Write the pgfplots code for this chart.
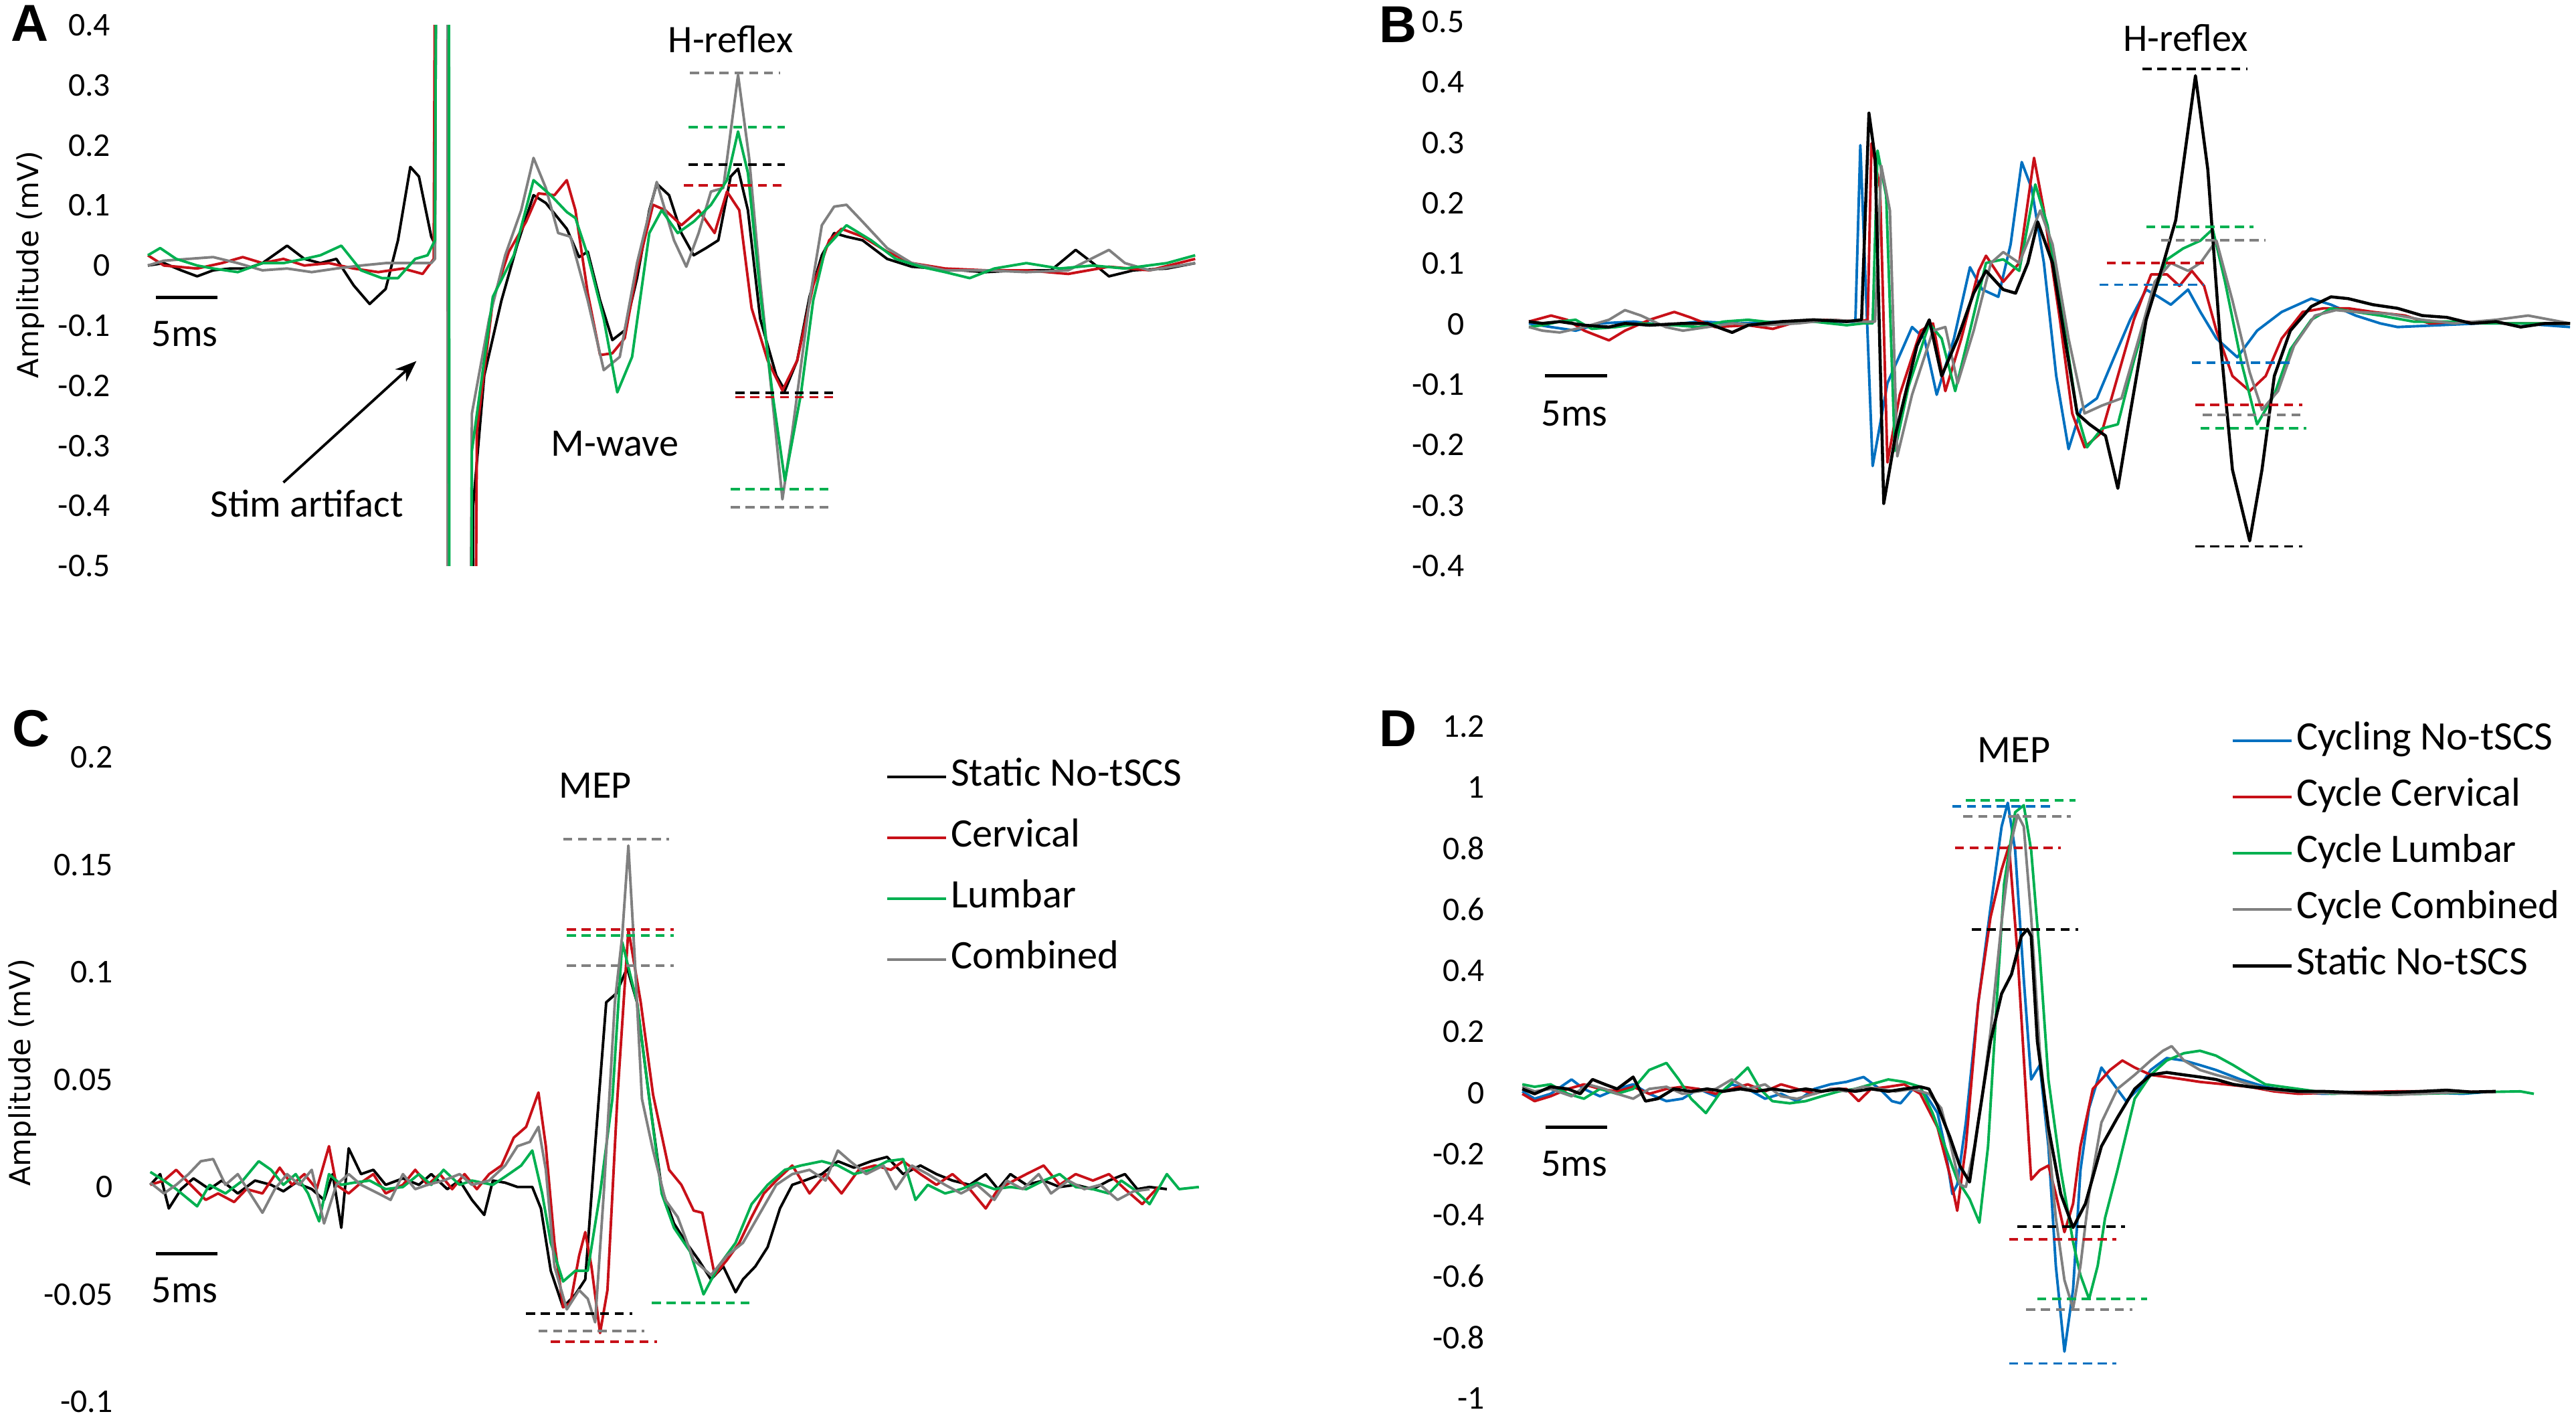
\documentclass[border=0pt]{standalone}
\usepackage{fontspec}
\setmainfont{Carlito}
\newfontfamily\dejavu{DejaVu Sans}
\newfontfamily\libsans{Liberation Sans}
\usepackage{pgfplots}
\pgfplotsset{compat=1.18}
\usetikzlibrary{arrows.meta}
\definecolor{cblue}{RGB}{0,112,192}
\definecolor{cred}{RGB}{200,16,24}
\definecolor{cgreen}{RGB}{0,176,80}
\definecolor{cgray}{RGB}{128,128,128}
\tikzset{
  ann/.style={font=\fontsize{13.5}{14}\selectfont},
  sbar/.style={line width=1.2pt},
  plet/.style={font=\libsans\bfseries\fontsize{18}{20}\selectfont, inner sep=0pt},
}
\pgfplotsset{
  panel/.style={
    scale only axis, clip=false,
    axis line style={draw=none}, tick style={draw=none}, xtick=\empty,
    yticklabel style={anchor=east, inner sep=0pt, xshift=-3mm, font=\fontsize{11.5}{12}\selectfont},
    every axis plot/.append style={line width=0.9pt, line join=round},
  },
  ref/.style={forget plot, line width=0.9pt, dash pattern=on 1.1mm off 0.7mm},
  leg/.style={legend cell align=left,
    legend image code/.code={\draw[##1] (0mm,0mm) -- (7.2mm,0mm); \path (7.6mm,0mm);},
    legend style={draw=none, fill=none, anchor=north west, inner sep=0pt,
      font=\fontsize{14}{16}\selectfont,
      nodes={inner sep=0pt, text height=3.4mm, text depth=1.2mm}}},
}
\begin{document}
\begin{tikzpicture}
\useasboundingbox (0,0) rectangle (313.6mm,-172.6mm);
% ---------------- Panel A ----------------
\begin{axis}[panel, clip=true, at={(16.5mm,-68.9mm)}, anchor=south west,
  width=130.5mm, height=65.84mm, xmin=-1, xmax=86, ymin=-0.5, ymax=0.4,
  ytick={-0.5,-0.4,-0.3,-0.2,-0.1,0,0.1,0.2,0.3,0.4},
  yticklabels={-0.5,-0.4,-0.3,-0.2,-0.1,0,0.1,0.2,0.3,0.4}]
\addplot[black] coordinates {(0,0)(1.3,0.004)(2.7,-0.008)(4,-0.018)(5.3,-0.008)(6.7,-0.005)(8,-0.005)(9.3,0.004)(11.3,0.033)(12.7,0.011)(14,0.004)(15.3,0.011)(16.7,-0.033)(18,-0.064)(19.3,-0.039)(20.3,0.042)(21.3,0.164)(22,0.148)(23,0.048)(23.3,0.036)(24.2,5)(24.5,-5)(25.8,-5)(26.4,-0.4)(27.3,-0.183)(28.7,-0.058)(30,0.036)(31.3,0.117)(32.3,0.104)(34,0.061)(35,0.014)(35.7,0.023)(36.7,-0.058)(37.7,-0.124)(38.7,-0.108)(39.7,-0.021)(40.7,0.092)(41.3,0.136)(42.3,0.117)(43.3,0.054)(44.3,0.017)(45.3,0.029)(46.3,0.042)(47.3,0.148)(47.9,0.161)(48.7,0.092)(49.7,-0.089)(51,-0.183)(51.7,-0.208)(52.7,-0.158)(53.7,-0.052)(54.7,0.017)(55.7,0.054)(56.7,0.048)(58,0.042)(60,0.011)(62,-0.002)(64,-0.005)(66,-0.008)(68,-0.011)(70.7,-0.008)(73.3,-0.008)(75.3,0.026)(76.7,0.004)(78,-0.018)(80,-0.008)(82.7,-0.005)(85,0.004)};
\addplot[cred] coordinates {(0,0.017)(1.3,0)(4,-0.005)(6,0.004)(7.7,0.014)(9.3,0.004)(11,0.011)(12.7,0)(14.7,0.004)(16.7,-0.005)(18.7,-0.011)(20.7,-0.005)(22.3,-0.014)(23.2,0.011)(24.2,5)(24.5,-5)(25.5,-5)(26.7,-0.277)(28,-0.058)(29.3,0.023)(30.7,0.073)(31.7,0.12)(33,0.117)(34,0.142)(34.7,0.092)(35.7,-0.046)(36.7,-0.149)(37.7,-0.146)(38.7,-0.121)(39.7,-0.008)(41,0.101)(42,0.092)(43.3,0.067)(44.7,0.092)(46,0.054)(47,0.123)(48,0.092)(49,-0.071)(50.3,-0.158)(51.5,-0.208)(52.7,-0.158)(54,-0.033)(55.3,0.042)(56.3,0.061)(58,0.048)(60,0.023)(62,0.004)(64.7,-0.005)(68,-0.008)(71.3,-0.008)(74.7,-0.014)(78,-0.002)(81.3,-0.008)(85,0.011)};
\addplot[cgray] coordinates {(0,0)(1.3,0.008)(3.3,0.011)(5.3,0.014)(7.3,0.004)(9.3,-0.008)(11.3,-0.005)(13.3,-0.011)(15.3,-0.005)(17.3,0)(19.3,0.004)(21.3,0.004)(23,0.004)(23.3,0.011)(24.2,5)(24.5,-5)(25,-5)(26.3,-0.246)(27.7,-0.089)(29,0.017)(30.3,0.092)(31.3,0.179)(32.3,0.129)(33.3,0.054)(34.3,0.048)(35.7,-0.058)(37,-0.174)(38.3,-0.152)(39.7,0.004)(41.3,0.139)(42.7,0.042)(43.7,-0.002)(44.7,0.054)(45.7,0.123)(46.7,0.129)(47.9,0.317)(48.8,0.179)(49.7,-0.027)(50.8,-0.246)(51.5,-0.389)(52.3,-0.277)(53.7,-0.058)(54.7,0.067)(55.7,0.098)(56.7,0.101)(58,0.073)(60,0.029)(62,0.004)(64.7,-0.008)(68,-0.008)(71.3,-0.011)(74.7,-0.008)(78,0.026)(79.3,0.004)(81.3,-0.008)(85,0.004)};
\addplot[cgreen] coordinates {(0,0.017)(1,0.029)(2.3,0.011)(4,0)(5.3,-0.005)(7.3,-0.011)(9.3,0.004)(11,0.004)(12.7,0.011)(14,0.017)(15.7,0.033)(17.3,-0.008)(19,-0.021)(20.3,-0.021)(21.7,0.011)(22.7,0.017)(23.3,0.042)(24.3,5)(24.6,-5)(25.6,-5)(26.3,-0.308)(28,-0.052)(29.7,0.017)(31.3,0.142)(32.7,0.117)(34,0.089)(34.7,0.079)(35.7,0.017)(37,-0.089)(38.1,-0.211)(39.3,-0.152)(40.7,0.054)(41.7,0.092)(43,0.054)(44.3,0.073)(45.7,0.101)(47,0.142)(47.9,0.223)(48.7,0.154)(49.7,-0.046)(50.7,-0.214)(51.7,-0.358)(53,-0.214)(54,-0.058)(55,0.029)(56.7,0.067)(58.7,0.042)(60.7,0.011)(62.7,-0.002)(64.7,-0.011)(66.7,-0.021)(68.7,-0.005)(71.3,0.004)(74,-0.005)(76.7,0)(79.3,-0.005)(82.7,0.004)(85,0.017)};
\addplot[ref,cgray] coordinates {(44,0.32)(51.3,0.32)};
\addplot[ref,cgreen] coordinates {(43.9,0.23)(51.7,0.23)};
\addplot[ref,black] coordinates {(43.9,0.168)(51.7,0.168)};
\addplot[ref,cred] coordinates {(43.5,0.133)(51.7,0.133)};
\addplot[ref,black] coordinates {(47.7,-0.212)(55.7,-0.212)};
\addplot[ref,cred] coordinates {(47.7,-0.219)(55.7,-0.219)};
\addplot[ref,cgreen] coordinates {(47.3,-0.372)(55.3,-0.372)};
\addplot[ref,cgray] coordinates {(47.3,-0.402)(55.3,-0.402)};
\draw[sbar] (axis cs:0.67,-0.053) -- (axis cs:5.67,-0.053);
\node[ann] at (axis cs:3,-0.114) {5ms};
\node[ann] at (axis cs:47.3,0.376) {H-reflex};
\node[ann] at (axis cs:37.9,-0.297) {M-wave};
\node[ann] at (axis cs:12.9,-0.396) {Stim artifact};
\draw[-{Stealth[length=2.6mm,width=2mm]}, line width=0.9pt] (axis cs:11,-0.361) -- (axis cs:21.8,-0.159);
\end{axis}
% ---------------- Panel B ----------------
\begin{axis}[panel, at={(184.62mm,-68.86mm)}, anchor=south west,
  width=128.7mm, height=66.2mm, xmin=-1, xmax=84.8, ymin=-0.4, ymax=0.5,
  yticklabel style={xshift=-3.3mm},
  ytick={-0.4,-0.3,-0.2,-0.1,0,0.1,0.2,0.3,0.4,0.5},
  yticklabels={-0.4,-0.3,-0.2,-0.1,0,0.1,0.2,0.3,0.4,0.5}]
\addplot[cblue] coordinates {(0,0.001)(1.8,-0.005)(3.8,-0.011)(5.8,0.001)(8.5,0.004)(11.1,-0.002)(13.8,0.004)(17.1,0.001)(20.5,0.004)(23.8,0.004)(26.5,0.004)(26.9,0.296)(27.9,-0.235)(29.1,-0.098)(31.1,-0.005)(32.1,-0.024)(33.1,-0.117)(34.5,-0.024)(35.8,0.094)(36.8,0.057)(38.1,0.045)(39.1,0.132)(40,0.268)(40.8,0.225)(41.8,0.101)(42.8,-0.086)(43.8,-0.207)(44.8,-0.142)(46.1,-0.123)(47.5,-0.055)(48.8,0.007)(50.1,0.057)(51.1,0.045)(52.1,0.032)(53.5,0.057)(54.5,0.02)(55.8,-0.024)(57.5,-0.055)(59.1,-0.011)(61.1,0.02)(63.5,0.042)(65.1,0.032)(67.1,0.014)(69.1,0.001)(70.5,-0.005)(73.8,-0.002)(77.1,0.001)(80.5,0.001)(84.5,-0.005)};
\addplot[cred] coordinates {(0,0.004)(1.8,0.014)(3.1,0.007)(4.5,-0.011)(6.5,-0.027)(7.8,-0.011)(9.8,0.007)(11.8,0.02)(13.1,0.011)(15.1,-0.005)(17.8,-0.002)(19.8,-0.008)(21.8,0.004)(24.5,0.007)(26.8,0.004)(27.5,0.007)(27.8,0.299)(28.5,0.225)(29.1,-0.229)(30.1,-0.117)(31.8,-0.011)(32.8,0.001)(33.8,-0.111)(35.1,-0.024)(36.5,0.088)(37.1,0.113)(38.5,0.07)(39.8,0.101)(41,0.275)(41.8,0.188)(43.1,0.007)(44.1,-0.148)(45.1,-0.204)(46.5,-0.179)(47.8,-0.086)(49.1,0.007)(50.5,0.082)(51.8,0.082)(52.8,0.063)(53.8,0.088)(54.8,0.063)(55.8,-0.011)(57.1,-0.086)(58.5,-0.111)(59.8,-0.086)(61.1,-0.024)(62.8,0.02)(64.5,0.026)(66.5,0.026)(68.5,0.02)(71.1,0.014)(73.1,0.001)(75.8,0.004)(79.1,0.001)(84.5,0.001)};
\addplot[cgreen] coordinates {(0,-0.005)(1.1,-0.002)(2.5,0.004)(3.8,0.007)(5.1,-0.008)(7.1,-0.005)(9.1,0.001)(11.8,-0.002)(13.8,-0.005)(15.8,0.004)(17.8,0.007)(20.5,0.001)(23.1,0.004)(25.8,-0.002)(27.1,0.001)(27.9,0.001)(28.3,0.287)(29,0.212)(29.7,-0.21)(30.8,-0.104)(32.5,0.001)(33.5,-0.024)(34.6,-0.111)(35.8,-0.011)(37.1,0.101)(38.5,0.107)(39.8,0.088)(41.1,0.231)(42.1,0.163)(43.5,-0.011)(44.5,-0.148)(45.3,-0.204)(46.5,-0.173)(47.8,-0.166)(49.1,-0.061)(50.5,0.039)(51.8,0.107)(53.1,0.125)(54.5,0.138)(55.5,0.157)(56.5,0.07)(57.8,-0.061)(59.1,-0.166)(60.5,-0.117)(61.8,-0.042)(63.5,0.007)(65.1,0.026)(67.1,0.02)(69.1,0.014)(71.8,0.004)(74.5,0.004)(77.8,0.001)(84.5,0.001)};
\addplot[cgray] coordinates {(0,-0.005)(1.1,-0.011)(2.5,-0.014)(4.5,-0.005)(6.5,0.007)(7.8,0.023)(9.1,0.014)(11.1,-0.005)(12.5,-0.011)(14.5,-0.005)(16.5,0.001)(19.1,-0.002)(21.8,0.001)(24.5,0.007)(27.1,0.004)(28.1,0.004)(28.6,0.262)(29.3,0.188)(29.9,-0.219)(31.1,-0.117)(32.8,-0.011)(33.8,-0.005)(34.8,-0.098)(36.1,-0.011)(37.5,0.101)(38.5,0.119)(39.8,0.101)(41.5,0.188)(42.5,0.132)(43.8,-0.024)(45.1,-0.148)(46.5,-0.135)(48.1,-0.123)(49.5,-0.024)(50.8,0.07)(52.1,0.101)(53.5,0.088)(54.5,0.101)(55.8,0.138)(57.1,0.039)(58.5,-0.08)(59.5,-0.142)(60.8,-0.111)(62.1,-0.036)(63.8,0.014)(65.5,0.023)(67.1,0.02)(69.8,0.017)(72.5,0.007)(75.1,0.001)(78.5,0.007)(81.1,0.014)(84.5,0.001)};
\addplot[black, line width=1.05pt] coordinates {(0,0.004)(1.1,0.001)(2.5,0.004)(4.5,-0.002)(6.5,-0.005)(7.8,0.001)(9.8,-0.002)(12.5,0.001)(14.5,0.001)(16.5,-0.014)(17.8,-0.002)(20.5,0.004)(23.1,0.007)(25.8,0.004)(27,0.007)(27.6,0.349)(28.1,0.275)(28.8,-0.297)(29.8,-0.179)(31.5,-0.036)(32.5,0.007)(33.5,-0.086)(34.8,-0.024)(36.1,0.051)(37.1,0.088)(38.5,0.057)(39.5,0.051)(40.5,0.101)(41.3,0.169)(42.5,0.101)(43.5,-0.024)(44.5,-0.148)(45.5,-0.166)(46.8,-0.185)(47.8,-0.272)(48.8,-0.148)(50.1,0.007)(51.5,0.101)(52.5,0.172)(54.1,0.411)(55.1,0.256)(56.1,-0.024)(57.1,-0.241)(58.5,-0.359)(59.5,-0.241)(60.5,-0.086)(61.8,-0.011)(63.5,0.029)(65.1,0.045)(66.5,0.042)(68.5,0.032)(70.5,0.026)(72.5,0.014)(74.5,0.011)(76.5,0.001)(78.5,0.004)(80.5,-0.005)(82.5,0.001)(84.5,0.001)};
\addplot[ref,black] coordinates {(49.8,0.422)(58.3,0.422)};
\addplot[ref,cgreen] coordinates {(50.1,0.161)(58.8,0.161)};
\addplot[ref,cgray] coordinates {(51.3,0.139)(59.8,0.139)};
\addplot[ref,cred] coordinates {(46.9,0.101)(54.8,0.101)};
\addplot[ref,cblue] coordinates {(46.3,0.065)(54.8,0.065)};
\addplot[ref,cblue] coordinates {(53.8,-0.064)(62.1,-0.064)};
\addplot[ref,cred] coordinates {(54.1,-0.134)(62.8,-0.134)};
\addplot[ref,cgray] coordinates {(54.7,-0.15)(63.1,-0.15)};
\addplot[ref,cgreen] coordinates {(54.5,-0.173)(63.1,-0.173)};
\addplot[ref,black] coordinates {(54.1,-0.368)(62.8,-0.368)};
\draw[sbar] (axis cs:1.33,-0.086) -- (axis cs:6.33,-0.086);
\node[ann] at (axis cs:3.7,-0.148) {5ms};
\node[ann] at (axis cs:53.3,0.473) {H-reflex};
\end{axis}
% ---------------- Panel C ----------------
\begin{axis}[panel, leg, at={(16.8mm,-170.62mm)}, anchor=south west,
  width=130.5mm, height=78.42mm, xmin=-1, xmax=86, ymin=-0.1, ymax=0.2,
  ytick={-0.1,-0.05,0,0.05,0.1,0.15,0.2},
  yticklabels={-0.1,-0.05,0,0.05,0.1,0.15,0.2},
  legend style={at={(0.697,1.0)}, row sep=2.82mm}]
\addplot[black] coordinates {(0,0.001)(0.8,0.006)(1.5,-0.01)(2.5,-0.001)(3.5,0.004)(4.8,-0.001)(5.8,0.003)(7.1,-0.003)(8.5,0.003)(9.8,0.001)(10.8,-0.002)(11.8,0.002)(13.1,-0.001)(14.1,-0.006)(14.8,0.006)(15.5,-0.019)(16.1,0.018)(17.1,0.006)(18.1,0.008)(19.1,0.001)(20.5,0.004)(21.8,0.001)(22.8,0.006)(24.1,-0.001)(25.1,0.003)(26.1,-0.006)(27.1,-0.013)(27.8,0.003)(28.8,0.002)(29.8,0)(31,0)(31.7,-0.01)(32.5,-0.039)(33.5,-0.056)(34.5,-0.05)(35.3,-0.043)(36.1,0.019)(37,0.086)(37.8,0.09)(38.7,0.102)(39.5,0.086)(40.5,0.041)(41.5,-0.001)(42.5,-0.017)(43.5,-0.026)(44.5,-0.034)(45.5,-0.043)(46.5,-0.037)(47.5,-0.049)(48.1,-0.043)(49.1,-0.037)(50.1,-0.028)(51.1,-0.01)(52.1,0.001)(53.1,0.003)(54.5,0.006)(55.8,0.012)(57.1,0.009)(58.5,0.012)(59.8,0.014)(61.1,0.006)(62.5,0.01)(63.8,0.006)(65.1,0.003)(66.5,0.001)(67.8,0.006)(68.8,-0.001)(69.8,0.006)(71.1,0.001)(72.5,0.003)(73.8,0)(75.1,0.001)(76.5,-0.001)(77.8,0.003)(79.1,0.006)(80.1,-0.001)(81.1,0)(82.5,-0.001)};
\addlegendentry{Static No-tSCS}
\addplot[cred] coordinates {(0,0.001)(1.1,0.003)(2.1,0.008)(3.1,0.002)(4.5,-0.006)(5.5,-0.003)(6.8,-0.007)(7.8,-0.001)(9.1,-0.003)(10.5,0.009)(11.5,0.001)(12.5,0.006)(13.5,-0.001)(14.5,0.019)(15.1,0.001)(16.1,-0.003)(17.1,0.002)(18.1,0.006)(19.1,-0.003)(20.5,0.001)(21.5,0.008)(22.5,0.001)(23.5,0.006)(24.5,-0.001)(25.5,0.006)(26.5,-0.001)(27.5,0.006)(28.5,0.01)(29.5,0.023)(30.5,0.028)(31.5,0.044)(32.1,0.019)(32.8,-0.026)(33.5,-0.056)(34.1,-0.054)(34.8,-0.032)(35.3,-0.021)(35.8,-0.037)(36.5,-0.068)(37.1,-0.048)(37.9,0.041)(38.8,0.12)(39.8,0.086)(40.8,0.043)(42.1,0.008)(43.1,0.001)(44.1,-0.011)(44.8,-0.012)(45.8,-0.041)(46.8,-0.034)(47.8,-0.026)(48.8,-0.014)(49.8,-0.003)(50.8,0.003)(52.1,0.01)(53.5,-0.003)(54.8,0.006)(56.1,-0.003)(57.5,0.008)(58.8,0.01)(60.1,0.008)(61.1,0.012)(62.5,0.006)(63.8,0.001)(65.1,0.006)(66.5,-0.001)(67.8,-0.01)(68.8,-0.001)(70.1,0.003)(71.1,0.006)(72.5,0.01)(73.8,0.001)(75.1,0.006)(76.5,0.003)(77.8,0.006)(79.1,-0.001)(80.5,-0.008)(81.8,0)};
\addlegendentry{Cervical}
\addplot[cgreen] coordinates {(0,0.007)(1.1,0.003)(2.1,-0.001)(3.8,-0.009)(4.8,0.001)(6.1,-0.003)(7.5,0.003)(8.8,0.012)(9.8,0.008)(10.8,0.001)(11.8,0.006)(12.8,-0.003)(13.7,-0.016)(14.5,0.006)(15.5,0.001)(16.5,0.002)(17.8,0.003)(19.1,-0.001)(20.5,0)(21.8,0.006)(22.8,0.001)(23.8,0.008)(25.1,0.001)(26.1,0.003)(27.8,0.001)(29.1,0.006)(30.1,0.01)(31,0.017)(31.8,-0.003)(32.5,-0.026)(33.5,-0.044)(34.5,-0.039)(35.5,-0.039)(36.5,-0.003)(37.5,0.041)(38.3,0.114)(39.5,0.086)(40.5,0.041)(41.5,-0.003)(42.5,-0.019)(43.8,-0.03)(44.9,-0.05)(46.1,-0.037)(47.5,-0.026)(48.8,-0.008)(50.1,0.001)(51.5,0.008)(52.8,0.01)(54.5,0.012)(55.8,0.01)(57.1,0.006)(58.5,0.008)(59.8,0.012)(61.1,0.013)(62.1,-0.006)(63.1,0.001)(64.5,-0.003)(65.8,-0.001)(67.1,0.002)(68.5,-0.001)(69.8,0)(71.1,-0.001)(72.5,0.003)(73.8,0.006)(75.1,0)(76.5,-0.001)(77.8,-0.003)(78.8,0.003)(79.8,-0.001)(81.1,-0.008)(82.5,0.006)(83.5,-0.001)(85.1,0)};
\addlegendentry{Lumbar}
\addplot[cgray] coordinates {(0,0.002)(1.1,-0.003)(2.1,0.001)(3.1,0.006)(4.1,0.012)(5.1,0.013)(6.1,0.001)(7.1,0.006)(8.1,-0.003)(9.1,-0.012)(10.1,-0.001)(11.1,0.006)(12.1,0.001)(13.1,0.008)(14.1,-0.017)(15.1,0.001)(16.1,0.006)(17.1,0.001)(18.5,-0.003)(19.5,-0.006)(20.5,0.006)(21.5,-0.001)(22.5,0.001)(23.8,0.003)(25.1,0.006)(26.1,0.001)(27.5,0.003)(28.8,0.01)(29.8,0.019)(30.8,0.021)(31.5,0.028)(32.1,0.008)(32.8,-0.037)(33.8,-0.057)(34.8,-0.048)(35.5,-0.052)(36.1,-0.063)(36.8,-0.003)(37.7,0.086)(38.3,0.117)(38.8,0.159)(39.3,0.108)(39.9,0.041)(40.8,0.017)(41.8,-0.006)(42.8,-0.014)(44.1,-0.034)(45.5,-0.041)(46.8,-0.032)(48.1,-0.026)(49.5,-0.012)(50.8,0.001)(52.1,0.006)(53.5,0.008)(54.8,0.003)(55.8,0.017)(56.8,0.012)(58.1,0.006)(59.5,0.01)(60.5,-0.001)(61.8,0.01)(63.1,0.006)(64.5,0.001)(65.8,-0.003)(67.1,0.001)(68.5,-0.006)(69.5,0.003)(70.8,-0.001)(72.1,0.006)(73.1,-0.003)(74.5,0.003)(75.8,-0.001)(77.1,0.001)(78.5,-0.006)(79.8,-0.002)(81.1,-0.001)};
\addlegendentry{Combined}
\addplot[ref,cgray] coordinates {(33.5,0.162)(42.1,0.162)};
\addplot[ref,cred] coordinates {(33.8,0.12)(42.5,0.12)};
\addplot[ref,cgreen] coordinates {(33.8,0.117)(42.5,0.117)};
\addplot[ref,cgray] coordinates {(33.8,0.103)(42.5,0.103)};
\addplot[ref,cgreen] coordinates {(40.7,-0.054)(49.1,-0.054)};
\addplot[ref,black] coordinates {(30.5,-0.059)(39.1,-0.059)};
\addplot[ref,cgray] coordinates {(31.5,-0.067)(40.1,-0.067)};
\addplot[ref,cred] coordinates {(32.5,-0.072)(41.1,-0.072)};
\draw[sbar] (axis cs:0.47,-0.031) -- (axis cs:5.47,-0.031);
\node[ann] at (axis cs:2.8,-0.048) {5ms};
\node[ann] at (axis cs:36.1,0.187) {MEP};
\end{axis}
% ---------------- Panel D ----------------
\begin{axis}[panel, leg, at={(183.82mm,-170.2mm)}, anchor=south west,
  width=126mm, height=81.78mm, xmin=-1, xmax=83, ymin=-1, ymax=1.2,
  ytick={-1,-0.8,-0.6,-0.4,-0.2,0,0.2,0.4,0.6,0.8,1,1.2},
  yticklabels={-1,-0.8,-0.6,-0.4,-0.2,0,0.2,0.4,0.6,0.8,1,1.2},
  legend style={at={(0.696,1.0076)}, row sep=2.25mm}]
\addplot[cblue] coordinates {(0,0.005)(1,-0.019)(2.3,-0.003)(4,0.044)(5,0.013)(6.3,-0.011)(7.7,0.013)(9,0.028)(10.3,-0.003)(11.7,-0.027)(13,-0.019)(14.3,0.013)(15.7,-0.011)(17,0.028)(18.3,0.013)(19.7,-0.019)(21,-0.003)(22.3,-0.027)(23.7,0.013)(25,0.028)(26.3,0.036)(27.7,0.052)(29,0.013)(30,-0.027)(30.7,-0.034)(31.7,0.013)(32.7,-0.003)(33.7,-0.066)(34.3,-0.175)(34.9,-0.331)(35.3,-0.3)(36,-0.097)(37,0.294)(38,0.606)(38.9,0.872)(39.4,0.95)(40,0.794)(40.7,0.372)(41.3,0.044)(42,0.091)(42.7,-0.175)(43.3,-0.566)(44,-0.847)(44.7,-0.644)(45.3,-0.253)(46,-0.05)(47,0.083)(48,0.028)(49,-0.027)(50,0.013)(51,0.075)(52.3,0.114)(53.7,0.106)(55,0.091)(56.3,0.075)(58.3,0.044)(60.3,0.02)(62.3,0.005)(65,-0.003)(67.7,0)(71,0.005)(74.3,0)(76.3,-0.003)(79,0.005)};
\addlegendentry{Cycling No-tSCS}
\addplot[cred] coordinates {(0,-0.003)(1,-0.027)(2.3,-0.011)(3.7,0.013)(5,0.028)(6.3,0.013)(7.7,0.005)(9,0.02)(10.3,-0.003)(11.7,0.013)(13,0.02)(14.3,0.013)(15.7,-0.003)(17,0.013)(18.3,0.028)(19.7,0.005)(21,0.028)(22.3,0.013)(23.7,-0.003)(25,0.013)(26.3,0.013)(27.3,-0.027)(28.3,0.013)(29.7,0.02)(31,0.028)(32.3,-0.003)(33.7,-0.113)(34.7,-0.269)(35.3,-0.386)(36,-0.175)(37,0.294)(38,0.575)(38.9,0.731)(39.5,0.809)(40.2,0.45)(40.9,-0.019)(41.3,-0.284)(42,-0.253)(42.7,-0.238)(43.3,-0.331)(44,-0.456)(44.7,-0.363)(45.3,-0.175)(46.3,0.013)(47.7,0.075)(48.7,0.106)(49.7,0.083)(51,0.059)(52.3,0.052)(53.7,0.044)(55,0.036)(57,0.028)(59,0.02)(61,0.005)(63,-0.003)(65,0)(67.7,0.003)(71,0.005)(74.3,0.005)(77.7,0.003)(79,0.005)};
\addlegendentry{Cycle Cervical}
\addplot[cgreen] coordinates {(0,0.028)(1,0.02)(2.3,0.028)(3.7,-0.003)(5,-0.019)(6.3,0.013)(7.7,-0.003)(9,0.013)(10.3,0.075)(11.7,0.098)(12.7,0.044)(13.7,-0.019)(14.9,-0.066)(16,-0.003)(17.3,0.044)(18.3,0.083)(19.3,0.013)(20.3,-0.027)(21.7,-0.034)(23,-0.027)(24.3,-0.011)(25.7,0.005)(27,0.013)(28.3,0.028)(29.7,0.044)(31,0.036)(32.3,0.02)(33.3,-0.066)(34.3,-0.175)(35.3,-0.284)(36.3,-0.347)(37.1,-0.425)(37.8,-0.175)(38.5,0.294)(39.1,0.684)(40,0.919)(40.7,0.942)(41.3,0.794)(42,0.45)(42.7,0.044)(43.7,-0.253)(44.7,-0.488)(45.3,-0.597)(46,-0.675)(46.7,-0.566)(47.3,-0.409)(48.3,-0.253)(49.7,-0.019)(51,0.059)(52.3,0.106)(53.7,0.13)(55,0.138)(56.3,0.122)(57.7,0.091)(59,0.059)(60.3,0.028)(61.7,0.02)(63.7,0.009)(65.7,-0.003)(67.7,0)(70.3,-0.006)(73,-0.003)(75.7,0)(78.3,0.003)(81,0.005)(82.1,-0.003)};
\addlegendentry{Cycle Lumbar}
\addplot[cgray] coordinates {(0,0.02)(1,0.005)(2.3,0.013)(4,-0.011)(5.3,0.028)(6.7,0.013)(7.7,-0.003)(9,-0.019)(10.3,0.013)(11.7,0.02)(13,-0.003)(14.3,0.005)(15.7,0.013)(17,0.044)(18.3,0.013)(19.7,0.028)(21,-0.011)(22.3,-0.019)(23.7,-0.003)(25,0.013)(26.3,0.005)(27.7,0.02)(29,0.013)(30.3,0.005)(31.7,0.013)(33,-0.003)(34,-0.05)(34.7,-0.159)(35.5,-0.3)(36,-0.308)(36.7,-0.175)(37.3,-0.019)(38,0.2)(38.9,0.559)(39.7,0.825)(40.2,0.911)(40.7,0.872)(41.3,0.575)(42,0.138)(42.7,-0.144)(43.3,-0.409)(44,-0.613)(44.7,-0.706)(45.3,-0.566)(46,-0.331)(47,-0.097)(48.3,0.013)(49.7,0.059)(51,0.106)(52,0.138)(52.7,0.153)(53.7,0.106)(55,0.075)(56.3,0.059)(57.7,0.044)(59,0.028)(60.3,0.013)(62.3,0.005)(65,0)(67.7,-0.003)(71,-0.006)(74.3,0)(77,0.003)(79,0.002)};
\addlegendentry{Cycle Combined}
\addplot[black, line width=1.05pt] coordinates {(0,0.013)(1,-0.003)(2.3,0.02)(3.7,0.013)(4.7,-0.003)(5.7,0.044)(6.7,0.028)(7.7,0.013)(9,0.052)(10,-0.027)(11,-0.019)(12.3,0.013)(13.7,0.005)(15,0.013)(16.3,0.005)(17.7,0.013)(19,0.005)(20.3,0.013)(21.7,0.005)(23,0.013)(24.3,0.005)(25.7,0.013)(27,0.005)(28.3,0.013)(29.7,0.005)(31,0.013)(32.3,0.02)(33,0.013)(33.7,-0.042)(34.7,-0.144)(35.5,-0.238)(36.3,-0.292)(37,-0.097)(38,0.169)(38.9,0.325)(39.7,0.388)(40.5,0.513)(41,0.536)(41.3,0.513)(41.8,0.169)(42.7,-0.113)(43.7,-0.331)(44.7,-0.441)(45.7,-0.363)(47,-0.175)(48.3,-0.081)(49.7,0.013)(51,0.059)(52.3,0.067)(53.7,0.059)(55,0.052)(56.3,0.044)(57.7,0.028)(59,0.02)(61,0.013)(63,0.005)(65,0.005)(67,0.002)(69,0)(71,0.002)(73,0.005)(75,0.009)(77,0.003)(79,0.005)};
\addlegendentry{Static No-tSCS}
\addplot[ref,cgreen] coordinates {(36,0.958)(44.9,0.958)};
\addplot[ref,cblue] coordinates {(34.9,0.938)(43.3,0.938)};
\addplot[ref,cgray] coordinates {(35.8,0.906)(44.5,0.906)};
\addplot[ref,cred] coordinates {(35.1,0.802)(43.7,0.802)};
\addplot[ref,black] coordinates {(36.5,0.536)(45.1,0.536)};
\addplot[ref,black] coordinates {(40.2,-0.4375)(48.9,-0.4375)};
\addplot[ref,cred] coordinates {(39.5,-0.48)(48.2,-0.48)};
\addplot[ref,cgreen] coordinates {(41.8,-0.675)(50.7,-0.675)};
\addplot[ref,cgray] coordinates {(40.9,-0.709)(49.5,-0.709)};
\addplot[ref,cblue] coordinates {(39.5,-0.886)(48.2,-0.886)};
\draw[sbar] (axis cs:1.87,-0.1125) -- (axis cs:6.87,-0.1125);
\node[ann] at (axis cs:4.2,-0.233) {5ms};
\node[ann] at (axis cs:39.9,1.122) {MEP};
\end{axis}
% ---------------- labels ----------------
\node[plet] at (3.66mm,-2.84mm) {A};
\node[plet] at (170.2mm,-3.0mm) {B};
\node[plet] at (3.8mm,-88.7mm) {C};
\node[plet] at (170.2mm,-88.7mm) {D};
\node[rotate=90, font=\dejavu\fontsize{10}{12}\selectfont] at (3.75mm,-32.2mm) {Amplitude (mV)};
\node[rotate=90, font=\dejavu\fontsize{10}{12}\selectfont] at (2.75mm,-130.54mm) {Amplitude (mV)};
\end{tikzpicture}
\end{document}
